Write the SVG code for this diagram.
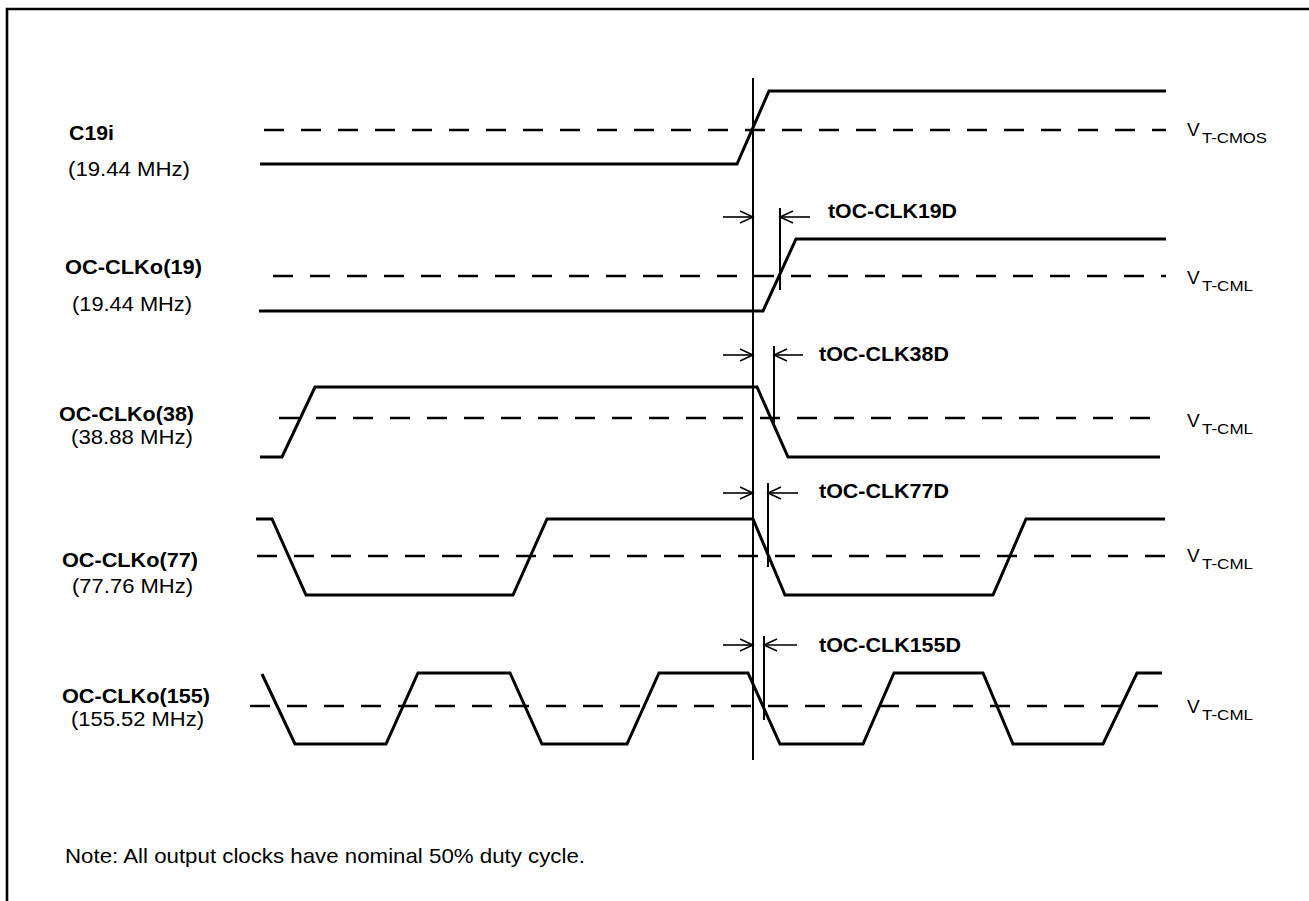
<svg xmlns="http://www.w3.org/2000/svg" width="1309" height="901" viewBox="0 0 1309 901">
<style>
.bg{fill:#fff}
.frame{fill:none;stroke:#000;stroke-width:2.6}
.wave{fill:none;stroke:#000;stroke-width:3;stroke-linejoin:miter;stroke-linecap:butt}
.thr{fill:none;stroke:#000;stroke-width:2.4;stroke-dasharray:20 17}
.ref{fill:none;stroke:#000;stroke-width:2}
.tick{fill:none;stroke:#000;stroke-width:2}
.dim{fill:none;stroke:#000;stroke-width:1.6;marker-end:url(#ah)}
text{font-family:"Liberation Sans",Arial,Helvetica,sans-serif;fill:#000}
.name{font-size:20px;font-weight:bold}
.freq{font-size:20px}
.tlab{font-size:20px;font-weight:bold}
.vl{font-size:19px}
.vs{font-size:15px}
.note{font-size:21px}
</style>
<defs>
<marker id="ah" viewBox="0 0 14 14" refX="13" refY="7" markerWidth="14" markerHeight="14" markerUnits="userSpaceOnUse" orient="auto" overflow="visible">
<path d="M0,1 L13,7 L0,13" fill="none" stroke="#000" stroke-width="1.5"/>
</marker>
</defs>
<rect class="bg" x="0" y="0" width="1309" height="901"/>
<path class="frame" d="M7,903 V9 H1311"/>

<g id="row-c19i">
<path class="thr" d="M264,130 H1166"/>
<path class="wave" d="M260,164 H737 L769,91 H1166"/>
<text class="name" x="69" y="140" textLength="45" lengthAdjust="spacingAndGlyphs">C19i</text>
<text class="freq" x="68" y="176" textLength="122" lengthAdjust="spacingAndGlyphs">(19.44 MHz)</text>
<text class="vl" x="1187" y="136">V<tspan class="vs" x="1202" dy="7" textLength="65" lengthAdjust="spacingAndGlyphs">T-CMOS</tspan></text>
</g>

<g id="row-oc19">
<path class="thr" d="M273,276 H1166"/>
<path class="wave" d="M259,311 H763 L796,239 H1166"/>
<text class="name" x="65" y="274" textLength="137" lengthAdjust="spacingAndGlyphs">OC-CLKo(19)</text>
<text class="freq" x="72" y="311" textLength="120" lengthAdjust="spacingAndGlyphs">(19.44 MHz)</text>
<text class="vl" x="1187" y="284">V<tspan class="vs" x="1202" dy="7" textLength="51" lengthAdjust="spacingAndGlyphs">T-CML</tspan></text>
</g>

<g id="row-oc38">
<path class="thr" d="M279,418 H1166"/>
<path class="wave" d="M260,457 H282 L315,387 H757 L788,457 H1160"/>
<text class="name" x="59" y="421" textLength="135" lengthAdjust="spacingAndGlyphs">OC-CLKo(38)</text>
<text class="freq" x="71" y="444" textLength="122" lengthAdjust="spacingAndGlyphs">(38.88 MHz)</text>
<text class="vl" x="1187" y="427">V<tspan class="vs" x="1202" dy="7" textLength="51" lengthAdjust="spacingAndGlyphs">T-CML</tspan></text>
</g>

<g id="row-oc77">
<path class="thr" d="M257,556 H1166"/>
<path class="wave" d="M256,519 H272 L306,595 H513 L547,519 H753 L785,595 H993 L1026,519 H1165"/>
<text class="name" x="62" y="567" textLength="136" lengthAdjust="spacingAndGlyphs">OC-CLKo(77)</text>
<text class="freq" x="72" y="593" textLength="121" lengthAdjust="spacingAndGlyphs">(77.76 MHz)</text>
<text class="vl" x="1187" y="562">V<tspan class="vs" x="1202" dy="7" textLength="51" lengthAdjust="spacingAndGlyphs">T-CML</tspan></text>
</g>

<g id="row-oc155">
<path class="thr" d="M250,706 H1163"/>
<path class="wave" d="M262,674 L295,744 H386 L418,673 H510 L542,744 H627 L659,673 H748 L780,744 H863 L894,673 H983 L1013,744 H1103 L1137,673 H1162"/>
<text class="name" x="62" y="703" textLength="148" lengthAdjust="spacingAndGlyphs">OC-CLKo(155)</text>
<text class="freq" x="71" y="726" textLength="133" lengthAdjust="spacingAndGlyphs">(155.52 MHz)</text>
<text class="vl" x="1187" y="713">V<tspan class="vs" x="1202" dy="7" textLength="51" lengthAdjust="spacingAndGlyphs">T-CML</tspan></text>
</g>

<g id="connectors">
<path class="ref" d="M753,78 V760"/>
<path class="tick" d="M780,208 V290"/>
<path class="dim" d="M723,217 H753"/>
<path class="dim" d="M810,217 H780"/>
<path class="tick" d="M774,346 V425"/>
<path class="dim" d="M723,355 H753"/>
<path class="dim" d="M803,355 H774"/>
<path class="tick" d="M768,483 V567"/>
<path class="dim" d="M723,493 H753"/>
<path class="dim" d="M798,493 H768"/>
<path class="tick" d="M764,636 V720"/>
<path class="dim" d="M723,645 H753"/>
<path class="dim" d="M797,645 H764"/>
</g>

<g id="timing-labels">
<text class="tlab" x="828" y="218" textLength="129" lengthAdjust="spacingAndGlyphs">tOC-CLK19D</text>
<text class="tlab" x="819" y="361" textLength="130" lengthAdjust="spacingAndGlyphs">tOC-CLK38D</text>
<text class="tlab" x="819" y="498" textLength="130" lengthAdjust="spacingAndGlyphs">tOC-CLK77D</text>
<text class="tlab" x="819" y="652" textLength="142" lengthAdjust="spacingAndGlyphs">tOC-CLK155D</text>
</g>

<g id="note">
<text class="note" x="65" y="863" textLength="520" lengthAdjust="spacingAndGlyphs">Note: All output clocks have nominal 50% duty cycle.</text>
</g>
</svg>
